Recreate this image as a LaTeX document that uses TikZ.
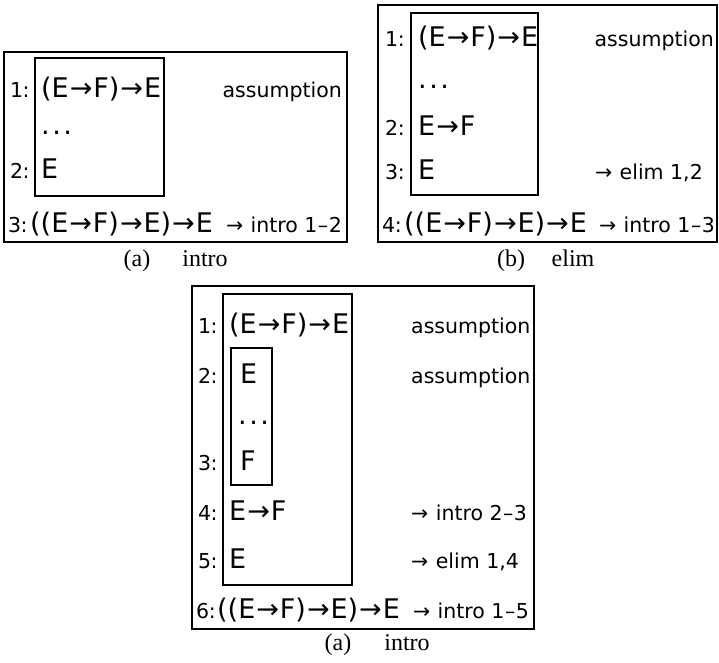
\documentclass[tikz,border=0pt]{standalone}
\usepackage{fontspec}
\setmainfont{DejaVu Sans}
\newfontfamily\capfont{Liberation Serif}
\newcommand{\ar}{\kern1pt→\kern1pt}
\newcommand{\dts}{.\kern2.5pt.\kern2.5pt.}
\newcommand{\ann}{→\kern1pt\ }
\newcommand{\dsh}{\kern0.5pt–\kern0.5pt}
\newcommand{\cln}{\kern-0.5pt:}
\begin{document}
\begin{tikzpicture}[x=1pt,y=-1pt,
  frm/.style={inner sep=0pt,anchor=base west,font=\fontsize{27}{27}\selectfont},
  num/.style={inner sep=0pt,anchor=base west,font=\fontsize{20.5}{20.5}\selectfont},
  ann/.style={inner sep=0pt,anchor=base west,font=\fontsize{20.5}{20.5}\selectfont},
  anne/.style={ann,anchor=base east},
  captxt/.style={inner sep=0pt,anchor=base,font=\capfont\fontsize{24}{24}\selectfont},
  box/.style={draw=black,line width=1.1pt}]
\useasboundingbox (0,0) rectangle (719,662);

% ---------- panel (a) ----------
\draw[box] (4,52) rectangle (347,242);
\draw[box] (35,58) rectangle (164,196);
\node[num] (a1n) at (10,97) {1\cln};
\node[frm] (a1f) at (41,97) {(E\ar F)\ar E};
\node[anne] (a1a) at (342,97) {assumption};
\node[frm] (adots) at (41,134) {\dts};
\node[num] (a2n) at (10,178) {2\cln};
\node[frm] (a2f) at (41,178) {E};
\node[num] (a3n) at (8,232) {3\cln};
\node[frm] (a3f) at (30,232) {((E\ar F)\ar E)\ar E};
\node[anne] (a3a) at (342,232) {\ann intro 1\dsh 2};
\node[captxt] (acl) at (137,266) {(a)};
\node[captxt] (act) at (205,266) {intro};

% ---------- panel (b) ----------
\draw[box] (378,5) rectangle (717,242);
\draw[box] (411,13) rectangle (538,195);
\node[num] (b1n) at (385,46) {1\cln};
\node[frm] (b1f) at (418,46) {(E\ar F)\ar E};
\node[anne] (b1a) at (714,46) {assumption};
\node[frm] (bdots) at (418,88) {\dts};
\node[num] (b2n) at (385,135) {2\cln};
\node[frm] (b2f) at (418,135) {E\ar F};
\node[num] (b3n) at (385,179) {3\cln};
\node[frm] (b3f) at (418,179) {E};
\node[anne] (b3a) at (703,179) {\ann elim 1,2};
\node[num] (b4n) at (382,232) {4\cln};
\node[frm] (b4f) at (404,232) {((E\ar F)\ar E)\ar E};
\node[anne] (b4a) at (715,232) {\ann intro 1\dsh 3};
\node[captxt] (bcl) at (511,266) {(b)};
\node[captxt] (bct) at (573,266) {elim};

% ---------- panel (c) ----------
\draw[box] (192,286) rectangle (534,629);
\draw[box] (223,294) rectangle (352,585);
\draw[box] (231,348) rectangle (272,485);
\node[num] (c1n) at (198,333) {1\cln};
\node[frm] (c1f) at (229,333) {(E\ar F)\ar E};
\node[ann] (c1a) at (411,333) {assumption};
\node[num] (c2n) at (198,383) {2\cln};
\node[frm] (c2f) at (240,383) {E};
\node[ann] (c2a) at (411,383) {assumption};
\node[frm] (cdots) at (238,424) {\dts};
\node[num] (c3n) at (198,470) {3\cln};
\node[frm] (c3f) at (240,470) {F};
\node[num] (c4n) at (198,520) {4\cln};
\node[frm] (c4f) at (229,520) {E\ar F};
\node[ann] (c4a) at (411,520) {\ann intro 2\dsh 3};
\node[num] (c5n) at (198,568) {5\cln};
\node[frm] (c5f) at (229,568) {E};
\node[ann] (c5a) at (411,568) {\ann elim 1,4};
\node[num] (c6n) at (196,618) {6\cln};
\node[frm] (c6f) at (217,618) {((E\ar F)\ar E)\ar E};
\node[anne] (c6a) at (529,618) {\ann intro 1\dsh 5};
\node[captxt] (ccl) at (338,650) {(a)};
\node[captxt] (cct) at (407,650) {intro};
\end{tikzpicture}
\end{document}
